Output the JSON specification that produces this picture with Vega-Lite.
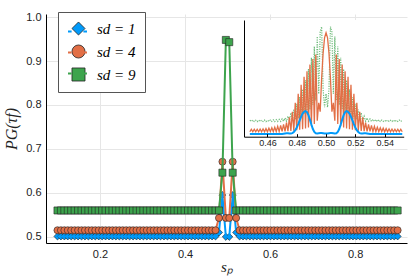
{
"$schema": "https://vega.github.io/schema/vega-lite/v6.json",
"width": 361, "height": 229,
"autosize": "none",
"padding": {"left": 46, "top": 14, "right": 8, "bottom": 34},
"background": "white",
"config": {"view": {"stroke": null}},
"layer": [
{
"data": {"values": [
{"x":0.1,"a":0.501,"b":0.515,"c":0.56},{"x":0.1081,"a":0.501,"b":0.515,"c":0.56},{"x":0.1162,"a":0.501,"b":0.515,"c":0.56},{"x":0.1242,"a":0.501,"b":0.515,"c":0.56},{"x":0.1323,"a":0.501,"b":0.515,"c":0.56},{"x":0.1404,"a":0.501,"b":0.515,"c":0.56},{"x":0.1485,"a":0.501,"b":0.515,"c":0.56},{"x":0.1566,"a":0.501,"b":0.515,"c":0.56},{"x":0.1646,"a":0.501,"b":0.515,"c":0.56},{"x":0.1727,"a":0.501,"b":0.515,"c":0.56},
{"x":0.1808,"a":0.501,"b":0.515,"c":0.56},{"x":0.1889,"a":0.501,"b":0.515,"c":0.56},{"x":0.197,"a":0.501,"b":0.515,"c":0.56},{"x":0.2051,"a":0.501,"b":0.515,"c":0.56},{"x":0.2131,"a":0.501,"b":0.515,"c":0.56},{"x":0.2212,"a":0.501,"b":0.515,"c":0.56},{"x":0.2293,"a":0.501,"b":0.515,"c":0.56},{"x":0.2374,"a":0.501,"b":0.515,"c":0.56},{"x":0.2455,"a":0.501,"b":0.515,"c":0.56},{"x":0.2535,"a":0.501,"b":0.515,"c":0.56},
{"x":0.2616,"a":0.501,"b":0.515,"c":0.56},{"x":0.2697,"a":0.501,"b":0.515,"c":0.56},{"x":0.2778,"a":0.501,"b":0.515,"c":0.56},{"x":0.2859,"a":0.501,"b":0.515,"c":0.56},{"x":0.2939,"a":0.501,"b":0.515,"c":0.56},{"x":0.302,"a":0.501,"b":0.515,"c":0.56},{"x":0.3101,"a":0.501,"b":0.515,"c":0.56},{"x":0.3182,"a":0.501,"b":0.515,"c":0.56},{"x":0.3263,"a":0.501,"b":0.515,"c":0.56},{"x":0.3343,"a":0.501,"b":0.515,"c":0.56},
{"x":0.3424,"a":0.501,"b":0.515,"c":0.56},{"x":0.3505,"a":0.501,"b":0.515,"c":0.56},{"x":0.3586,"a":0.501,"b":0.515,"c":0.56},{"x":0.3667,"a":0.501,"b":0.515,"c":0.56},{"x":0.3747,"a":0.501,"b":0.515,"c":0.56},{"x":0.3828,"a":0.501,"b":0.515,"c":0.56},{"x":0.3909,"a":0.501,"b":0.515,"c":0.56},{"x":0.399,"a":0.501,"b":0.515,"c":0.56},{"x":0.4071,"a":0.501,"b":0.515,"c":0.56},{"x":0.4152,"a":0.501,"b":0.515,"c":0.56},
{"x":0.4232,"a":0.501,"b":0.515,"c":0.56},{"x":0.4313,"a":0.501,"b":0.515,"c":0.56},{"x":0.4394,"a":0.501,"b":0.515,"c":0.56},{"x":0.4475,"a":0.501,"b":0.515,"c":0.56},{"x":0.4556,"a":0.501,"b":0.515,"c":0.56},{"x":0.4636,"a":0.501,"b":0.515,"c":0.56},{"x":0.4717,"a":0.501,"b":0.515,"c":0.56},{"x":0.4798,"a":0.51,"b":0.543,"c":0.56},{"x":0.4879,"a":0.595,"b":0.671,"c":0.646},{"x":0.496,"a":0.5,"b":0.543,"c":0.948},
{"x":0.504,"a":0.5,"b":0.543,"c":0.943},{"x":0.5121,"a":0.595,"b":0.671,"c":0.646},{"x":0.5202,"a":0.51,"b":0.543,"c":0.56},{"x":0.5283,"a":0.501,"b":0.515,"c":0.56},{"x":0.5364,"a":0.501,"b":0.515,"c":0.56},{"x":0.5444,"a":0.501,"b":0.515,"c":0.56},{"x":0.5525,"a":0.501,"b":0.515,"c":0.56},{"x":0.5606,"a":0.501,"b":0.515,"c":0.56},{"x":0.5687,"a":0.501,"b":0.515,"c":0.56},{"x":0.5768,"a":0.501,"b":0.515,"c":0.56},
{"x":0.5848,"a":0.501,"b":0.515,"c":0.56},{"x":0.5929,"a":0.501,"b":0.515,"c":0.56},{"x":0.601,"a":0.501,"b":0.515,"c":0.56},{"x":0.6091,"a":0.501,"b":0.515,"c":0.56},{"x":0.6172,"a":0.501,"b":0.515,"c":0.56},{"x":0.6253,"a":0.501,"b":0.515,"c":0.56},{"x":0.6333,"a":0.501,"b":0.515,"c":0.56},{"x":0.6414,"a":0.501,"b":0.515,"c":0.56},{"x":0.6495,"a":0.501,"b":0.515,"c":0.56},{"x":0.6576,"a":0.501,"b":0.515,"c":0.56},
{"x":0.6657,"a":0.501,"b":0.515,"c":0.56},{"x":0.6737,"a":0.501,"b":0.515,"c":0.56},{"x":0.6818,"a":0.501,"b":0.515,"c":0.56},{"x":0.6899,"a":0.501,"b":0.515,"c":0.56},{"x":0.698,"a":0.501,"b":0.515,"c":0.56},{"x":0.7061,"a":0.501,"b":0.515,"c":0.56},{"x":0.7141,"a":0.501,"b":0.515,"c":0.56},{"x":0.7222,"a":0.501,"b":0.515,"c":0.56},{"x":0.7303,"a":0.501,"b":0.515,"c":0.56},{"x":0.7384,"a":0.501,"b":0.515,"c":0.56},
{"x":0.7465,"a":0.501,"b":0.515,"c":0.56},{"x":0.7545,"a":0.501,"b":0.515,"c":0.56},{"x":0.7626,"a":0.501,"b":0.515,"c":0.56},{"x":0.7707,"a":0.501,"b":0.515,"c":0.56},{"x":0.7788,"a":0.501,"b":0.515,"c":0.56},{"x":0.7869,"a":0.501,"b":0.515,"c":0.56},{"x":0.7949,"a":0.501,"b":0.515,"c":0.56},{"x":0.803,"a":0.501,"b":0.515,"c":0.56},{"x":0.8111,"a":0.501,"b":0.515,"c":0.56},{"x":0.8192,"a":0.501,"b":0.515,"c":0.56},
{"x":0.8273,"a":0.501,"b":0.515,"c":0.56},{"x":0.8354,"a":0.501,"b":0.515,"c":0.56},{"x":0.8434,"a":0.501,"b":0.515,"c":0.56},{"x":0.8515,"a":0.501,"b":0.515,"c":0.56},{"x":0.8596,"a":0.501,"b":0.515,"c":0.56},{"x":0.8677,"a":0.501,"b":0.515,"c":0.56},{"x":0.8758,"a":0.501,"b":0.515,"c":0.56},{"x":0.8838,"a":0.501,"b":0.515,"c":0.56},{"x":0.8919,"a":0.501,"b":0.515,"c":0.56},{"x":0.9,"a":0.501,"b":0.515,"c":0.56}
]},
"encoding": {
"x": {"field": "x", "type": "quantitative", "title": "sₚ",
 "scale": {"domain": [0.073, 0.922], "nice": false, "zero": false},
 "axis": {"values": [0.2, 0.4, 0.6, 0.8], "format": ".1f", "grid": true, "gridColor": "#e6e6e6", "domainColor": "#000", "ticks": false, "labelFont": "Liberation Sans", "labelFontSize": 11, "labelColor": "#222", "labelPadding": 5, "titleFont": "Liberation Serif", "titleFontStyle": "italic", "titleFontWeight": "normal", "titleFontSize": 15, "titleColor": "#222", "titlePadding": 0}}
},
"layer": [
{"mark": {"type": "point", "filled": true, "size": 50, "stroke": "#222", "strokeWidth": 0.6, "opacity": 1},
 "encoding": {
  "y": {"field": "a", "type": "quantitative", "title": "PG(τf)",
   "scale": {"domain": [0.486, 1.007], "nice": false, "zero": false},
   "axis": {"values": [0.5, 0.6, 0.7, 0.8, 0.9, 1.0], "format": ".1f", "grid": true, "gridColor": "#e6e6e6", "domainColor": "#000", "ticks": false, "labelFont": "Liberation Sans", "labelFontSize": 11, "labelColor": "#222", "labelPadding": 5, "titleFont": "Liberation Serif", "titleFontStyle": "italic", "titleFontWeight": "normal", "titleFontSize": 16, "titleColor": "#222", "titlePadding": 6}},
  "color": {"datum": "sd = 1", "scale": {"domain": ["sd = 1", "sd = 4", "sd = 9"], "range": ["#009AFA", "#E26F46", "#3DA44D"]},
   "legend": {"orient": "none", "legendX": 12, "legendY": -2, "title": null, "padding": 9, "symbolSize": 170, "symbolStrokeColor": "#222", "symbolStrokeWidth": 0.8, "symbolOpacity": 1, "symbolOffset": 4, "labelFont": "Liberation Serif", "labelFontStyle": "italic", "labelFontSize": 15, "labelColor": "#000", "labelOffset": 11, "rowPadding": 6, "fillColor": "white", "strokeColor": "#555"}},
  "shape": {"datum": "sd = 1", "scale": {"domain": ["sd = 1", "sd = 4", "sd = 9"], "range": ["diamond", "circle", "square"]},
   "legend": {"orient": "none", "legendX": 12, "legendY": -2, "title": null, "padding": 9, "symbolSize": 170, "symbolStrokeColor": "#222", "symbolStrokeWidth": 0.8, "symbolOpacity": 1, "symbolOffset": 4, "labelFont": "Liberation Serif", "labelFontStyle": "italic", "labelFontSize": 15, "labelColor": "#000", "labelOffset": 11, "rowPadding": 6, "fillColor": "white", "strokeColor": "#555"}}
 }},
{"mark": {"type": "line", "strokeWidth": 2},
 "encoding": {
  "y": {"field": "a", "type": "quantitative", "title": "PG(τf)", "scale": {"domain": [0.486, 1.007], "nice": false, "zero": false}},
  "stroke": {"datum": "1", "scale": {"domain": ["1", "4", "9"], "range": ["#009AFA", "#E26F46", "#3DA44D"]},
   "legend": {"orient": "none", "legendX": 12, "legendY": -2, "title": null, "padding": 9, "symbolType": "M-1,-0.68M-1,0H-0.62M0.62,0H1M1,0.68", "symbolSize": 361, "symbolStrokeWidth": 2, "labelExpr": "''", "labelFontSize": 15, "labelOffset": 2, "rowPadding": 0}}
 }},
{"mark": {"type": "line", "strokeWidth": 2},
 "encoding": {
  "y": {"field": "b", "type": "quantitative", "title": "PG(τf)", "scale": {"domain": [0.486, 1.007], "nice": false, "zero": false}},
  "stroke": {"datum": "4"}
 }},
{"mark": {"type": "point", "filled": true, "size": 50, "stroke": "#222", "strokeWidth": 0.6, "opacity": 1},
 "encoding": {
  "y": {"field": "b", "type": "quantitative", "title": "PG(τf)", "scale": {"domain": [0.486, 1.007], "nice": false, "zero": false}},
  "color": {"datum": "sd = 4"},
  "shape": {"datum": "sd = 4"}
 }},
{"mark": {"type": "line", "strokeWidth": 2},
 "encoding": {
  "y": {"field": "c", "type": "quantitative", "title": "PG(τf)", "scale": {"domain": [0.486, 1.007], "nice": false, "zero": false}},
  "stroke": {"datum": "9"}
 }},
{"mark": {"type": "point", "filled": true, "size": 50, "stroke": "#222", "strokeWidth": 0.6, "opacity": 1},
 "encoding": {
  "y": {"field": "c", "type": "quantitative", "title": "PG(τf)", "scale": {"domain": [0.486, 1.007], "nice": false, "zero": false}},
  "color": {"datum": "sd = 9"},
  "shape": {"datum": "sd = 9"}
 }}
]
},
{
"layer": [
{"data": {"values": [{"x1": 0.444, "x2": 0.553, "y1": 0.489, "y2": 1.008}]},
 "mark": {"type": "rect", "fill": "white", "stroke": null},
 "encoding": {
  "x": {"field": "x1", "type": "quantitative", "title": null,
   "scale": {"domain": [0.444, 0.553], "range": [198, 357.7], "nice": false, "zero": false},
   "axis": {"orient": "bottom", "offset": -106.3, "values": [0.46, 0.48, 0.5, 0.52, 0.54], "format": ".2f", "grid": false, "domainColor": "#000", "tickColor": "#000", "tickSize": -3, "labelPadding": 5, "labelFont": "Liberation Sans", "labelFontSize": 9, "labelColor": "#222", "title": null, "zindex": 1}},
  "x2": {"field": "x2"},
  "y": {"field": "y1", "type": "quantitative", "title": null,
   "scale": {"domain": [0.489, 1.008], "range": [122.7, 6], "nice": false, "zero": false},
   "axis": {"orient": "left", "offset": -198, "labels": false, "ticks": false, "grid": false, "domainColor": "#000", "title": null, "zindex": 1}},
  "y2": {"field": "y2"}
 }},
{"data": {"name": "inset", "values": [
{"x":0.448,"b":0.501,"o":0.511,"g":0.562},{"x":0.449,"b":0.501,"o":0.522,"g":0.557},{"x":0.45,"b":0.501,"o":0.511,"g":0.563},{"x":0.451,"b":0.501,"o":0.522,"g":0.557},{"x":0.452,"b":0.501,"o":0.511,"g":0.562},{"x":0.453,"b":0.501,"o":0.522,"g":0.556},{"x":0.454,"b":0.501,"o":0.511,"g":0.563},{"x":0.455,"b":0.501,"o":0.523,"g":0.557},{"x":0.456,"b":0.501,"o":0.511,"g":0.562},{"x":0.457,"b":0.501,"o":0.524,"g":0.557},
{"x":0.458,"b":0.501,"o":0.511,"g":0.563},{"x":0.459,"b":0.501,"o":0.525,"g":0.556},{"x":0.46,"b":0.501,"o":0.511,"g":0.562},{"x":0.461,"b":0.501,"o":0.527,"g":0.557},{"x":0.462,"b":0.501,"o":0.512,"g":0.563},{"x":0.463,"b":0.501,"o":0.529,"g":0.557},{"x":0.464,"b":0.501,"o":0.512,"g":0.564},{"x":0.465,"b":0.501,"o":0.531,"g":0.556},{"x":0.466,"b":0.501,"o":0.512,"g":0.565},{"x":0.467,"b":0.501,"o":0.535,"g":0.557},
{"x":0.468,"b":0.501,"o":0.512,"g":0.566},{"x":0.469,"b":0.501,"o":0.539,"g":0.557},{"x":0.47,"b":0.501,"o":0.513,"g":0.568},{"x":0.471,"b":0.502,"o":0.544,"g":0.558},{"x":0.472,"b":0.503,"o":0.513,"g":0.572},{"x":0.473,"b":0.504,"o":0.552,"g":0.558},{"x":0.474,"b":0.504,"o":0.514,"g":0.58},{"x":0.475,"b":0.503,"o":0.575,"g":0.56},{"x":0.476,"b":0.503,"o":0.515,"g":0.595},{"x":0.477,"b":0.505,"o":0.6,"g":0.562},
{"x":0.478,"b":0.51,"o":0.516,"g":0.61},{"x":0.479,"b":0.518,"o":0.64,"g":0.565},{"x":0.48,"b":0.53,"o":0.518,"g":0.635},{"x":0.481,"b":0.545,"o":0.68,"g":0.57},{"x":0.482,"b":0.562,"o":0.52,"g":0.665},{"x":0.483,"b":0.578,"o":0.72,"g":0.58},{"x":0.484,"b":0.592,"o":0.522,"g":0.7},{"x":0.485,"b":0.6,"o":0.755,"g":0.59},{"x":0.486,"b":0.603,"o":0.525,"g":0.74},{"x":0.487,"b":0.598,"o":0.78,"g":0.6},
{"x":0.488,"b":0.585,"o":0.53,"g":0.79},{"x":0.489,"b":0.565,"o":0.81,"g":0.61},{"x":0.49,"b":0.543,"o":0.535,"g":0.84},{"x":0.491,"b":0.523,"o":0.835,"g":0.63},{"x":0.492,"b":0.51,"o":0.545,"g":0.89},{"x":0.493,"b":0.504,"o":0.855,"g":0.65},{"x":0.494,"b":0.503,"o":0.56,"g":0.935},{"x":0.495,"b":0.504,"o":0.64,"g":0.68},{"x":0.496,"b":0.505,"o":0.6,"g":0.955},{"x":0.497,"b":0.505,"o":0.75,"g":0.978},
{"x":0.498,"b":0.504,"o":0.86,"g":0.7},{"x":0.499,"b":0.503,"o":0.93,"g":0.62},{"x":0.5,"b":0.503,"o":0.951,"g":0.68},
{"x":0.501,"b":0.503,"o":0.93,"g":0.62},{"x":0.502,"b":0.504,"o":0.86,"g":0.7},{"x":0.503,"b":0.505,"o":0.75,"g":0.978},{"x":0.504,"b":0.505,"o":0.6,"g":0.955},{"x":0.505,"b":0.504,"o":0.64,"g":0.68},{"x":0.506,"b":0.503,"o":0.56,"g":0.935},{"x":0.507,"b":0.504,"o":0.855,"g":0.65},{"x":0.508,"b":0.51,"o":0.545,"g":0.89},{"x":0.509,"b":0.523,"o":0.835,"g":0.63},{"x":0.51,"b":0.543,"o":0.535,"g":0.84},
{"x":0.511,"b":0.565,"o":0.81,"g":0.61},{"x":0.512,"b":0.585,"o":0.53,"g":0.79},{"x":0.513,"b":0.598,"o":0.78,"g":0.6},{"x":0.514,"b":0.603,"o":0.525,"g":0.74},{"x":0.515,"b":0.6,"o":0.755,"g":0.59},{"x":0.516,"b":0.592,"o":0.522,"g":0.7},{"x":0.517,"b":0.578,"o":0.72,"g":0.58},{"x":0.518,"b":0.562,"o":0.52,"g":0.665},{"x":0.519,"b":0.545,"o":0.68,"g":0.57},{"x":0.52,"b":0.53,"o":0.518,"g":0.635},
{"x":0.521,"b":0.518,"o":0.64,"g":0.565},{"x":0.522,"b":0.51,"o":0.516,"g":0.61},{"x":0.523,"b":0.505,"o":0.6,"g":0.562},{"x":0.524,"b":0.503,"o":0.515,"g":0.595},{"x":0.525,"b":0.503,"o":0.575,"g":0.56},{"x":0.526,"b":0.504,"o":0.514,"g":0.58},{"x":0.527,"b":0.504,"o":0.552,"g":0.558},{"x":0.528,"b":0.503,"o":0.513,"g":0.572},{"x":0.529,"b":0.502,"o":0.544,"g":0.558},{"x":0.53,"b":0.501,"o":0.513,"g":0.568},
{"x":0.531,"b":0.501,"o":0.539,"g":0.557},{"x":0.532,"b":0.501,"o":0.512,"g":0.566},{"x":0.533,"b":0.501,"o":0.535,"g":0.557},{"x":0.534,"b":0.501,"o":0.512,"g":0.565},{"x":0.535,"b":0.501,"o":0.531,"g":0.556},{"x":0.536,"b":0.501,"o":0.512,"g":0.564},{"x":0.537,"b":0.501,"o":0.529,"g":0.557},{"x":0.538,"b":0.501,"o":0.512,"g":0.563},{"x":0.539,"b":0.501,"o":0.527,"g":0.557},{"x":0.54,"b":0.501,"o":0.511,"g":0.562},
{"x":0.541,"b":0.501,"o":0.525,"g":0.556},{"x":0.542,"b":0.501,"o":0.511,"g":0.563},{"x":0.543,"b":0.501,"o":0.524,"g":0.557},{"x":0.544,"b":0.501,"o":0.511,"g":0.562},{"x":0.545,"b":0.501,"o":0.523,"g":0.557},{"x":0.546,"b":0.501,"o":0.511,"g":0.563},{"x":0.547,"b":0.501,"o":0.522,"g":0.556},{"x":0.548,"b":0.501,"o":0.511,"g":0.562},{"x":0.549,"b":0.501,"o":0.522,"g":0.557},{"x":0.55,"b":0.501,"o":0.511,"g":0.563},
{"x":0.551,"b":0.501,"o":0.522,"g":0.557},{"x":0.552,"b":0.501,"o":0.511,"g":0.562}
]},
 "layer": [
  {"mark": {"type": "line", "stroke": "#3DA44D", "strokeWidth": 1.2, "strokeDash": [1.2, 1.2], "opacity": 0.75},
   "encoding": {"x": {"field": "x", "type": "quantitative", "title": null}, "y": {"field": "g", "type": "quantitative", "title": null}}},
  {"mark": {"type": "line", "stroke": "#E26F46", "strokeWidth": 1.3},
   "encoding": {"x": {"field": "x", "type": "quantitative", "title": null}, "y": {"field": "o", "type": "quantitative", "title": null}}},
  {"mark": {"type": "line", "stroke": "#009AFA", "strokeWidth": 2},
   "encoding": {"x": {"field": "x", "type": "quantitative", "title": null}, "y": {"field": "b", "type": "quantitative", "title": null}}}
 ]}
]
}
],
"resolve": {"scale": {"x": "independent", "y": "independent"}, "axis": {"x": "independent", "y": "independent"}}
}
